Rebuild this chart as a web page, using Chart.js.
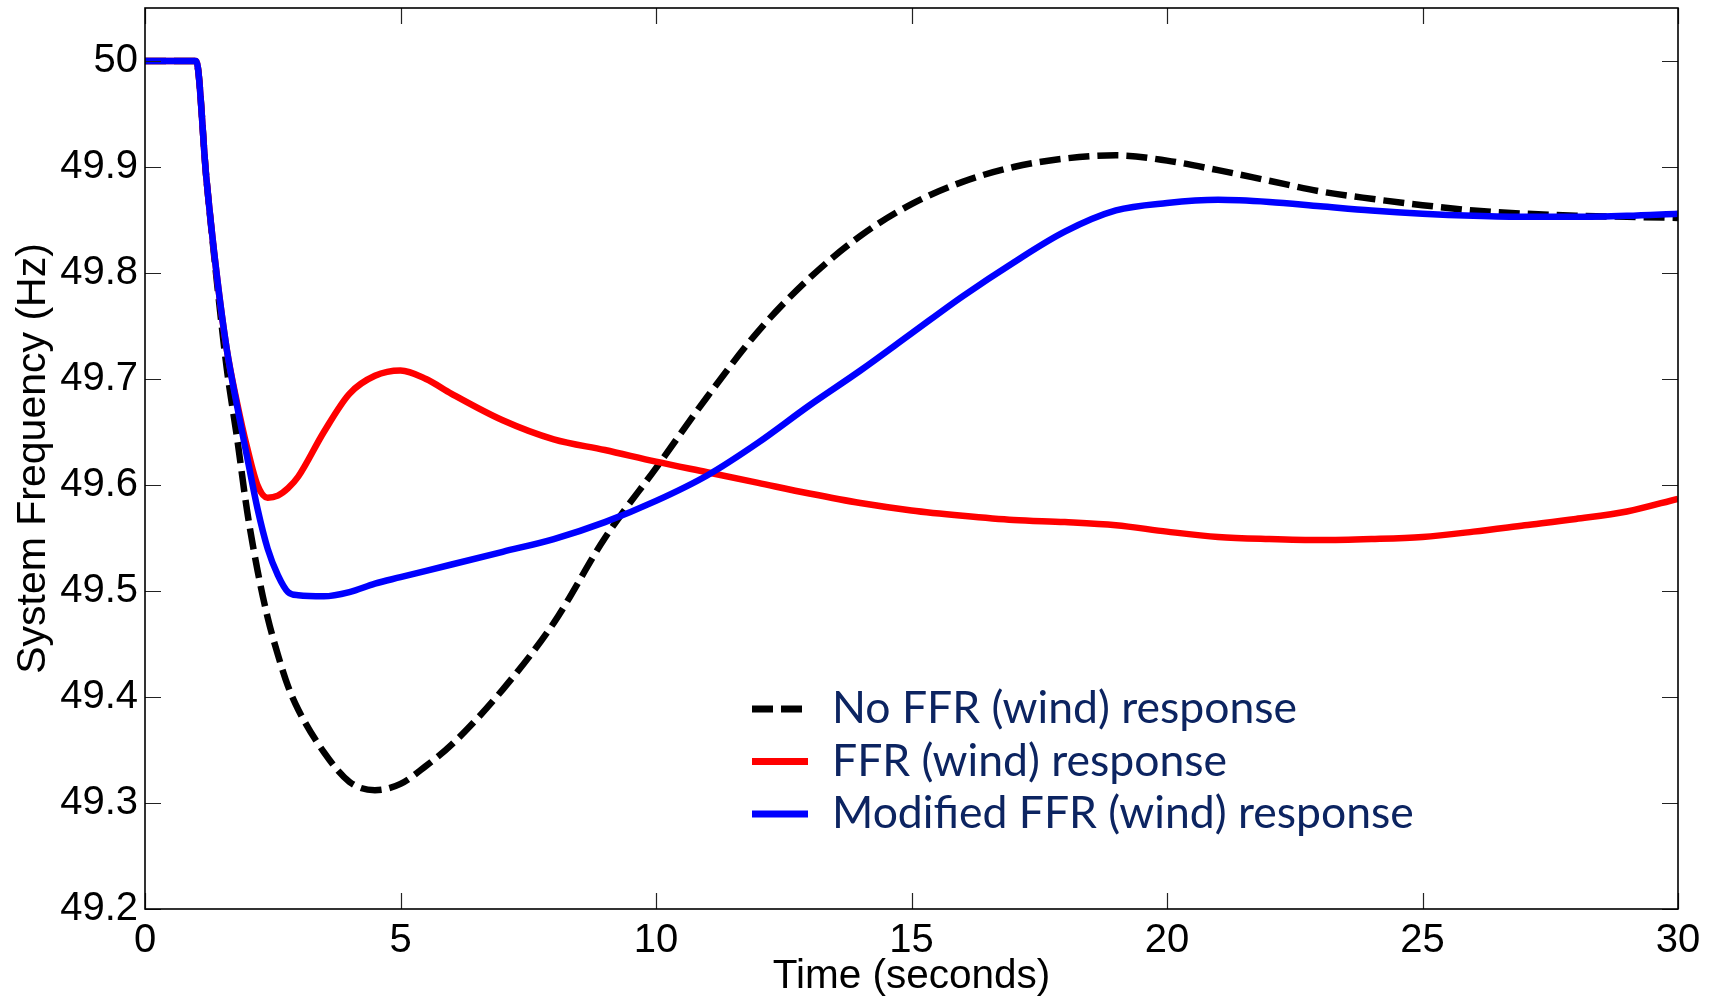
<!DOCTYPE html>
<html>
<head>
<meta charset="utf-8">
<title>System Frequency</title>
<script src="https://cdn.jsdelivr.net/npm/chart.js@4.4.1/dist/chart.umd.min.js"></script>
<style>
  html, body { margin: 0; padding: 0; background: #fff; }
  #wrap { width: 1715px; height: 1003px; position: relative; }
</style>
</head>
<body>
<div id="wrap"><canvas id="freqChart" width="1715" height="1003"></canvas></div>
<script>
// time in seconds, shared by all three runs
const timeS = [0, 1, 1.2, 1.4, 1.6, 1.8, 2.0, 2.2, 2.4, 2.6, 2.8, 3.0, 3.5, 4.0, 4.5, 5.0, 5.5, 6.0,
  7, 8, 9, 10, 11, 12, 13, 14, 15, 16, 17, 18, 19, 20, 21, 22, 23, 24, 25, 26, 27, 28, 29, 30];

// system frequency (Hz)
const noFfr = [50, 50, 49.89, 49.795, 49.71, 49.645, 49.575, 49.52, 49.475, 49.44, 49.41, 49.388, 49.348, 49.32, 49.312, 49.318, 49.335, 49.355,
  49.407, 49.47, 49.55, 49.616, 49.683, 49.745, 49.795, 49.835, 49.865, 49.886, 49.9, 49.908, 49.911, 49.906, 49.897, 49.887, 49.877, 49.87, 49.864, 49.859, 49.856, 49.854, 49.853, 49.852];

const ffr = [50, 50, 49.89, 49.80, 49.728, 49.678, 49.635, 49.60, 49.588, 49.59, 49.597, 49.608, 49.65, 49.686, 49.703, 49.708, 49.70, 49.686,
  49.661, 49.643, 49.633, 49.622, 49.612, 49.602, 49.592, 49.583, 49.576, 49.571, 49.567, 49.565, 49.562, 49.556, 49.551, 49.549, 49.548, 49.549, 49.551, 49.556, 49.562, 49.568, 49.575, 49.587];

const modFfr = [50, 50, 49.89, 49.80, 49.728, 49.675, 49.626, 49.578, 49.54, 49.515, 49.499, 49.496, 49.495, 49.499, 49.507, 49.513, 49.519, 49.525,
  49.537, 49.549, 49.565, 49.585, 49.609, 49.64, 49.675, 49.708, 49.743, 49.778, 49.81, 49.839, 49.859, 49.866, 49.869, 49.867, 49.863, 49.859, 49.856, 49.854, 49.853, 49.853, 49.854, 49.856];

const seriesLabels = ['No FFR (wind) response', 'FFR (wind) response', 'Modified FFR (wind) response'];
const xTicks = [0, 5, 10, 15, 20, 25, 30];
const yTicks = [49.2, 49.3, 49.4, 49.5, 49.6, 49.7, 49.8, 49.9, 50];

(function() {
    'use strict';

    const AXIS_FONT = '"Liberation Sans", Arial, sans-serif';

    function toPoints(vals) {
        return timeS.map(function(t, i) { return { x: t, y: vals[i] }; });
    }

    // MATLAB style box with ticks pointing inwards on all four sides
    const framePlugin = {
        id: 'frame',
        afterDatasetsDraw: function(chart) {
            const ctx = chart.ctx;
            const a = chart.chartArea;
            const xs = chart.scales.x, ys = chart.scales.y;
            const len = 16;
            ctx.save();
            ctx.strokeStyle = '#222';
            ctx.lineWidth = 1.2;
            ctx.beginPath();
            xs.ticks.forEach(function(t) {
                const px = Math.round(xs.getPixelForValue(t.value)) + 0.5;
                ctx.moveTo(px, a.bottom); ctx.lineTo(px, a.bottom - len);
                ctx.moveTo(px, a.top); ctx.lineTo(px, a.top + len);
            });
            ys.ticks.forEach(function(t) {
                const py = Math.round(ys.getPixelForValue(t.value)) + 0.5;
                ctx.moveTo(a.left, py); ctx.lineTo(a.left + len, py);
                ctx.moveTo(a.right, py); ctx.lineTo(a.right - len, py);
            });
            ctx.stroke();
            ctx.strokeStyle = '#000';
            ctx.lineWidth = 1.6;
            ctx.strokeRect(a.left, a.top, a.right - a.left, a.bottom - a.top);
            ctx.restore();
        }
    };

    const insideLegend = {
        id: 'insideLegend',
        afterDraw: function(chart, args, opts) {
            const ctx = chart.ctx;
            ctx.save();
            ctx.font = opts.fontSize + 'px ' + opts.fontFamily;
            ctx.textBaseline = 'middle';
            ctx.textAlign = 'left';
            chart.data.datasets.forEach(function(ds, i) {
                const y = opts.y + i * opts.rowGap;
                ctx.strokeStyle = ds.borderColor;
                ctx.lineWidth = opts.lineWidth;
                ctx.setLineDash(ds.borderDash ? opts.legendDash : []);
                ctx.beginPath();
                ctx.moveTo(opts.x, y);
                ctx.lineTo(opts.x + opts.lineLen, y);
                ctx.stroke();
                ctx.setLineDash([]);
                ctx.fillStyle = opts.color;
                ctx.fillText(ds.label, opts.x + opts.lineLen + opts.textGap, y + opts.textShift);
            });
            ctx.restore();
        }
    };

    function lineSet(label, vals, color, dash, order) {
        return {
            label: label,
            data: toPoints(vals),
            borderColor: color,
            borderWidth: 6.5,
            borderDash: dash,
            borderCapStyle: 'butt',
            borderJoinStyle: 'round',
            pointRadius: 0,
            fill: false,
            order: order,
            cubicInterpolationMode: 'monotone'
        };
    }

    function init() {
        const ctx = document.getElementById('freqChart');
        new Chart(ctx, {
            type: 'line',
            data: {
                datasets: [
                    lineSet(seriesLabels[0], noFfr, '#000000', [21, 8], 3),
                    lineSet(seriesLabels[1], ffr, '#ff0000', undefined, 2),
                    lineSet(seriesLabels[2], modFfr, '#0000ff', undefined, 1)
                ]
            },
            options: {
                responsive: false,
                animation: false,
                devicePixelRatio: 1,
                layout: { padding: { top: 8, right: 37, left: 0, bottom: 0 } },
                plugins: {
                    legend: { display: false },
                    tooltip: { enabled: false },
                    insideLegend: {
                        x: 752, y: 709, rowGap: 52.5, lineLen: 56, textGap: 24, textShift: 0,
                        lineWidth: 7, legendDash: [21, 8],
                        fontSize: 44.5, fontFamily: 'Lato, "Noto Sans", sans-serif', color: '#0c2461'
                    }
                },
                scales: {
                    x: {
                        type: 'linear',
                        min: 0, max: 30,
                        afterBuildTicks: function(s) { s.ticks = xTicks.map(function(v) { return { value: v }; }); },
                        afterFit: function(s) { s.height = 94; s.paddingLeft = 0; s.paddingRight = 0; },
                        grid: { display: false, drawTicks: false },
                        border: { display: false },
                        ticks: {
                            autoSkip: false, maxRotation: 0, padding: 8,
                            color: '#000',
                            font: { family: AXIS_FONT, size: 40 },
                            callback: function(v) { return String(v); }
                        },
                        title: {
                            display: true, text: 'Time (seconds)', color: '#000',
                            font: { family: AXIS_FONT, size: 40.5, lineHeight: 1 },
                            padding: { top: 0, bottom: 6 }
                        }
                    },
                    y: {
                        type: 'linear',
                        min: 49.2, max: 50.05,
                        afterBuildTicks: function(s) { s.ticks = yTicks.map(function(v) { return { value: v }; }); },
                        afterFit: function(s) { s.width = 145; s.paddingTop = 0; s.paddingBottom = 0; },
                        grid: { display: false, drawTicks: false },
                        border: { display: false },
                        ticks: {
                            autoSkip: false, padding: 7,
                            color: '#000',
                            font: { family: AXIS_FONT, size: 40 },
                            callback: function(v) { return String(Number(v.toFixed(1))); }
                        },
                        title: {
                            display: true, text: 'System Frequency (Hz)', color: '#000',
                            font: { family: AXIS_FONT, size: 41, lineHeight: 1 },
                            padding: { top: 13, bottom: 0 }
                        }
                    }
                }
            },
            plugins: [framePlugin, insideLegend]
        });
    }

    if (document.readyState === 'loading') {
        document.addEventListener('DOMContentLoaded', init);
    } else {
        init();
    }
})();
</script>
</body>
</html>
